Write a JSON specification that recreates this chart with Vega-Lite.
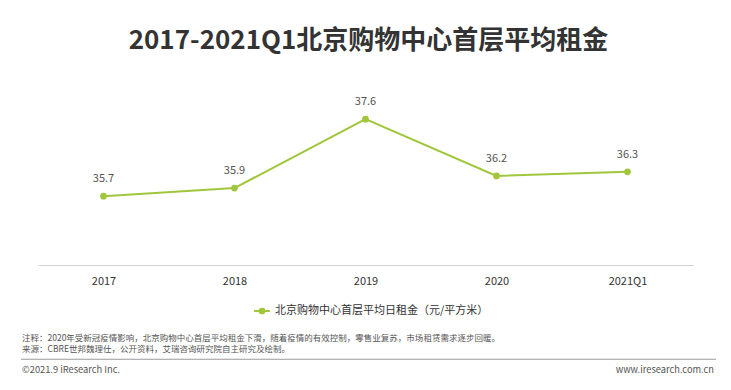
{
  "$schema": "https://vega.github.io/schema/vega-lite/v6.json",
  "background": "white",
  "padding": {"left": 20, "top": 28, "right": 10, "bottom": 0},
  "config": {
    "view": {"stroke": null},
    "font": "Noto Sans CJK SC"
  },
  "title": {
    "text": "2017-2021Q1北京购物中心首层平均租金",
    "fontSize": 26,
    "fontWeight": "bold",
    "color": "#333333",
    "anchor": "middle",
    "offset": 42
  },
  "spacing": 15,
  "resolve": {"legend": {"color": "independent"}},
  "vconcat": [
    {
      "width": 695,
      "height": 162,
      "data": {
        "values": [
          {"period": "2017", "rent": 35.7, "series": "北京购物中心首层平均日租金（元/平方米）"},
          {"period": "2018", "rent": 35.9, "series": "北京购物中心首层平均日租金（元/平方米）"},
          {"period": "2019", "rent": 37.6, "series": "北京购物中心首层平均日租金（元/平方米）"},
          {"period": "2020", "rent": 36.2, "series": "北京购物中心首层平均日租金（元/平方米）"},
          {"period": "2021Q1", "rent": 36.3, "series": "北京购物中心首层平均日租金（元/平方米）"}
        ]
      },
      "encoding": {
        "x": {
          "field": "period",
          "type": "ordinal",
          "sort": null,
          "scale": {"type": "point", "range": [17, 672], "padding": 0.5},
          "axis": {
            "title": null,
            "labelAngle": 0,
            "labelFontSize": 11,
            "labelColor": "#333333",
            "labelPadding": 10,
            "ticks": false,
            "domainColor": "#d0d0d0",
            "domainWidth": 1,
            "grid": false
          }
        },
        "y": {
          "field": "rent",
          "type": "quantitative",
          "scale": {"domain": [34, 38], "zero": false},
          "axis": null
        }
      },
      "layer": [
        {
          "mark": {"type": "line", "strokeWidth": 2, "point": {"filled": true, "size": 45}},
          "encoding": {
            "color": {
              "field": "series",
              "type": "nominal",
              "scale": {"range": ["#a0c63c"]},
              "legend": {
                "title": null,
                "orient": "none",
                "legendX": 232,
                "legendY": 199,
                "direction": "horizontal",
                "labelFontSize": 11,
                "labelColor": "#333333",
                "labelLimit": 0,
                "symbolType": "M-1,0H1M-0.3,0A0.3,0.3,0,1,1,0.3,0A0.3,0.3,0,1,1,-0.3,0Z",
                "symbolSize": 250,
                "symbolStrokeWidth": 2,
                "symbolFillColor": "#a0c63c",
                "symbolStrokeColor": "#a0c63c"
              }
            }
          }
        },
        {
          "mark": {"type": "text", "dy": -17, "fontSize": 11, "color": "#555555"},
          "encoding": {"text": {"field": "rent", "type": "quantitative", "format": ".1f"}}
        }
      ]
    },
    {
      "width": 695,
      "height": 42,
      "data": {
        "values": [
          {"line": 1, "side": 0, "kind": "note", "text": "注释：2020年受新冠疫情影响，北京购物中心首层平均租金下滑，随着疫情的有效控制，零售业复苏，市场租赁需求逐步回暖。"},
          {"line": 2, "side": 0, "kind": "note", "text": "来源：CBRE世邦魏理仕，公开资料，艾瑞咨询研究院自主研究及绘制。"},
          {"line": 3, "side": 0, "kind": "rule", "text": ""},
          {"line": 4, "side": 0, "kind": "foot", "text": "©2021.9 iResearch Inc."},
          {"line": 4, "side": 1, "kind": "foot", "text": "www.iresearch.com.cn"}
        ]
      },
      "encoding": {
        "y": {"field": "line", "type": "ordinal", "scale": {"type": "point", "padding": 0.5}, "axis": null}
      },
      "layer": [
        {
          "transform": [{"filter": "datum.kind === 'rule'"}],
          "mark": {"type": "rule", "color": "#9a9a9a", "strokeWidth": 1},
          "encoding": {}
        },
        {
          "transform": [{"filter": "datum.kind === 'note'"}],
          "mark": {"type": "text", "align": "left", "baseline": "middle", "fontSize": 8.5, "color": "#555555", "dx": 1},
          "encoding": {
            "x": {"field": "side", "type": "quantitative", "scale": {"domain": [0, 1]}, "axis": null},
            "text": {"field": "text"}
          }
        },
        {
          "transform": [{"filter": "datum.kind === 'foot' && datum.side === 0"}],
          "mark": {"type": "text", "align": "left", "baseline": "middle", "fontSize": 9.3, "color": "#555555", "dx": 1},
          "encoding": {
            "x": {"field": "side", "type": "quantitative", "scale": {"domain": [0, 1]}, "axis": null},
            "text": {"field": "text"}
          }
        },
        {
          "transform": [{"filter": "datum.kind === 'foot' && datum.side === 1"}],
          "mark": {"type": "text", "align": "right", "baseline": "middle", "fontSize": 9.3, "color": "#555555", "dx": -2},
          "encoding": {
            "x": {"field": "side", "type": "quantitative", "scale": {"domain": [0, 1]}, "axis": null},
            "text": {"field": "text"}
          }
        }
      ]
    }
  ]
}
